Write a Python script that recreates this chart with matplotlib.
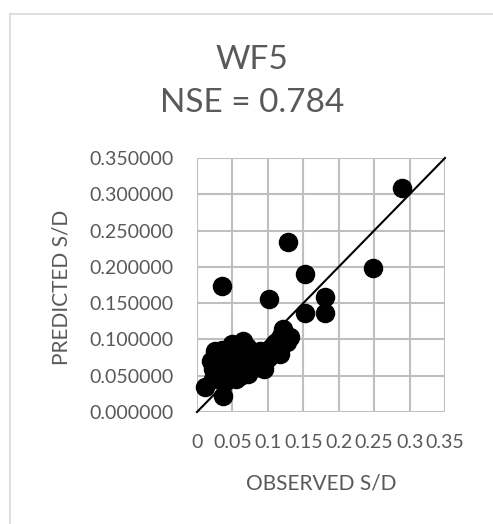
import matplotlib
matplotlib.use("Agg")
import matplotlib.pyplot as plt

plt.rcParams['font.family'] = ['Lato', 'DejaVu Sans']

# observed vs predicted S/D
observed = [0.290, 0.129, 0.249, 0.035, 0.153, 0.101, 0.181, 0.181, 0.153, 0.122,
            0.131, 0.117, 0.127, 0.112, 0.037, 0.011, 0.025, 0.049, 0.065, 0.089,
            0.094, 0.072, 0.023, 0.023, 0.042, 0.056, 0.075, 0.033, 0.045, 0.060,
            0.080, 0.030, 0.050, 0.068, 0.085, 0.040, 0.055, 0.028, 0.030, 0.040,
            0.050, 0.060, 0.070, 0.080, 0.035, 0.055, 0.045, 0.065, 0.085, 0.020,
            0.100, 0.110, 0.118, 0.038]
predicted = [0.308, 0.234, 0.199, 0.173, 0.190, 0.156, 0.159, 0.137, 0.137, 0.114,
             0.103, 0.080, 0.096, 0.087, 0.022, 0.034, 0.084, 0.094, 0.098, 0.084,
             0.059, 0.052, 0.059, 0.045, 0.050, 0.064, 0.073, 0.073, 0.080, 0.085,
             0.065, 0.065, 0.070, 0.060, 0.070, 0.060, 0.078, 0.050, 0.055, 0.070,
             0.080, 0.050, 0.090, 0.060, 0.085, 0.045, 0.062, 0.075, 0.072, 0.070,
             0.075, 0.095, 0.105, 0.040]
ticks = [0, 0.05, 0.1, 0.15, 0.2, 0.25, 0.3, 0.35]
x_tick_labels = ['0', '0.05', '0.1', '0.15', '0.2', '0.25', '0.3', '0.35']
one_to_one = [0, 0.35]

grey = '#595959'
fig = plt.figure(figsize=(4.93, 5.24), dpi=100)

ax = fig.add_axes([197/493, 1 - 412/524, 248/493, 254/524])
ax.set_xlim(0, 0.35)
ax.set_ylim(0, 0.35)
ax.set_xticks(ticks)
ax.set_xticklabels(x_tick_labels)
ax.set_yticks(ticks)
ax.set_yticklabels(['%.6f' % t for t in ticks])
for t in ticks:
    ax.axhline(t, color='#bfbfbf', linewidth=1.5, zorder=1)
    ax.axvline(t, color='#bfbfbf', linewidth=1.5, zorder=1)
for s in ax.spines.values():
    s.set_visible(False)
ax.tick_params(length=0, labelsize=14, labelcolor=grey)
ax.tick_params(axis='y', pad=17)
ax.tick_params(axis='x', pad=16)

ax.scatter(observed, predicted, s=170, color='black', zorder=3, clip_on=False)
ax.plot(one_to_one, one_to_one, color='black', linewidth=1.5, zorder=4, clip_on=False)

# chart-area border, only left and top edges inside the picture
fig.add_artist(plt.Line2D([9.5/493, 9.5/493], [0, 1 - 13.5/524], color='#d9d9d9', lw=1.2))
fig.add_artist(plt.Line2D([9.5/493, 1], [1 - 13.5/524, 1 - 13.5/524], color='#d9d9d9', lw=1.2))

fig.text(252/493, 1 - 60/524, 'WF5', ha='center', va='center', fontsize=24, color=grey)
fig.text(252/493, 1 - 103/524, 'NSE = 0.784', ha='center', va='center', fontsize=24, color=grey)
fig.text(62/493, 1 - 287/524, 'PREDICTED S/D', rotation=90, ha='center', va='center',
         fontsize=15, color=grey)
fig.text(321/493, 1 - 483/524, 'OBSERVED S/D', ha='center', va='center', fontsize=15, color=grey)

fig.savefig('out.png', dpi=100)
